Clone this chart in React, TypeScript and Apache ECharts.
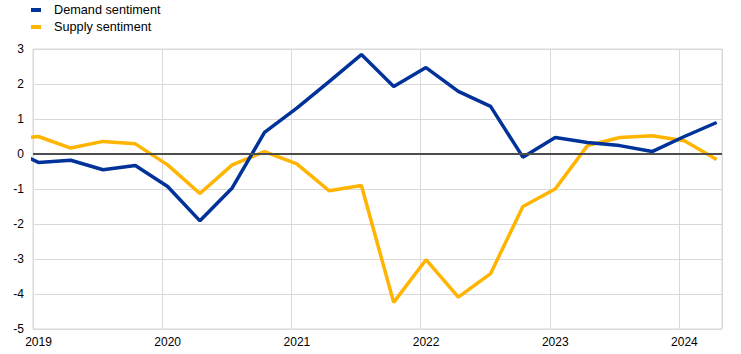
import React, { useEffect, useRef } from "react";
import * as echarts from "echarts";

const quarters = [
  "2018Q4",
  "2019Q1", "2019Q2", "2019Q3", "2019Q4",
  "2020Q1", "2020Q2", "2020Q3", "2020Q4",
  "2021Q1", "2021Q2", "2021Q3", "2021Q4",
  "2022Q1", "2022Q2", "2022Q3", "2022Q4",
  "2023Q1", "2023Q2", "2023Q3", "2023Q4",
  "2024Q1", "2024Q2",
];

const demandSentiment = [
  0.2,
  -0.24, -0.18, -0.45, -0.33,
  -0.93, -1.91, -0.97, 0.62,
  1.31, 2.07, 2.84, 1.93,
  2.47, 1.79, 1.36, -0.09,
  0.47, 0.33, 0.24, 0.07,
  0.5, 0.9,
];

const supplySentiment = [
  0.4,
  0.5, 0.17, 0.36, 0.29,
  -0.31, -1.13, -0.31, 0.07,
  -0.28, -1.05, -0.9, -4.24,
  -3.02, -4.09, -3.42, -1.5,
  -1.0, 0.24, 0.47, 0.52,
  0.38, -0.16,
];

const yearTicks = [2019, 2020, 2021, 2022, 2023, 2024];

const toX = (q: string) => {
  const year = parseInt(q.slice(0, 4), 10);
  const qn = parseInt(q.slice(5), 10);
  return year + (qn - 1) / 4 + 0.042;
};

export default function App() {
  const ref = useRef<HTMLDivElement>(null);
  useEffect(() => {
    document.body.style.margin = "0";
    if (!ref.current) return;
    const chart = echarts.init(ref.current, undefined, { renderer: "svg" });
    const font = "Liberation Sans";
    chart.setOption({
      animation: false,
      textStyle: { fontFamily: font },
      legend: {
        data: ["Demand sentiment", "Supply sentiment"],
        orient: "vertical",
        left: 31,
        top: 2.5,
        padding: 0,
        icon: "rect",
        itemWidth: 10,
        itemHeight: 4,
        itemGap: 2,
        textStyle: {
          fontFamily: font,
          fontSize: 12.7,
          lineHeight: 15,
          color: "#000",
          padding: [0, 0, 0, 8],
        },
      },
      grid: {
        left: 33,
        right: 19,
        top: 49,
        bottom: 25,
        show: true,
        borderColor: "#d9d9d9",
        borderWidth: 1,
      },
      xAxis: {
        type: "value",
        min: yearTicks[0],
        max: 2024 + 1 / 3,
        interval: 1,
        axisLine: { show: false },
        axisTick: { show: false },
        splitLine: { show: true, lineStyle: { color: "#d9d9d9", width: 1 } },
        axisLabel: {
          fontFamily: font,
          fontSize: 12,
          color: "#000",
          margin: 7,
          padding: [0, 0, 0, 11],
          showMaxLabel: false,
          formatter: (v: number) =>
            yearTicks.includes(Math.round(v)) && Math.abs(v - Math.round(v)) < 1e-6
              ? String(Math.round(v))
              : "",
        },
      },
      yAxis: {
        type: "value",
        min: -5,
        max: 3,
        interval: 1,
        axisLine: { show: false },
        axisTick: { show: false },
        splitLine: { show: true, lineStyle: { color: "#d9d9d9", width: 1 } },
        axisLabel: { fontFamily: font, fontSize: 12, color: "#000", margin: 9 },
      },
      series: [
        {
          name: "zero",
          type: "line",
          data: [],
          z: 1,
          silent: true,
          markLine: {
            silent: true,
            symbol: "none",
            label: { show: false },
            lineStyle: { color: "#4d4d4d", width: 2, type: "solid" },
            data: [{ yAxis: 0 }],
          },
        },
        {
          name: "Demand sentiment",
          type: "line",
          z: 3,
          showSymbol: false,
          symbol: "none",
          clip: true,
          color: "#003299",
          lineStyle: { color: "#003299", width: 3.5 },
          itemStyle: { color: "#003299" },
          data: quarters.map((q, i) => [toX(q), demandSentiment[i]]),
        },
        {
          name: "Supply sentiment",
          type: "line",
          z: 2,
          showSymbol: false,
          symbol: "none",
          clip: true,
          color: "#ffb400",
          lineStyle: { color: "#ffb400", width: 3.5 },
          itemStyle: { color: "#ffb400" },
          data: quarters.map((q, i) => [toX(q), supplySentiment[i]]),
        },
      ],
    });
    return () => chart.dispose();
  }, []);
  return <div ref={ref} style={{ width: 741, height: 354 }} />;
}
